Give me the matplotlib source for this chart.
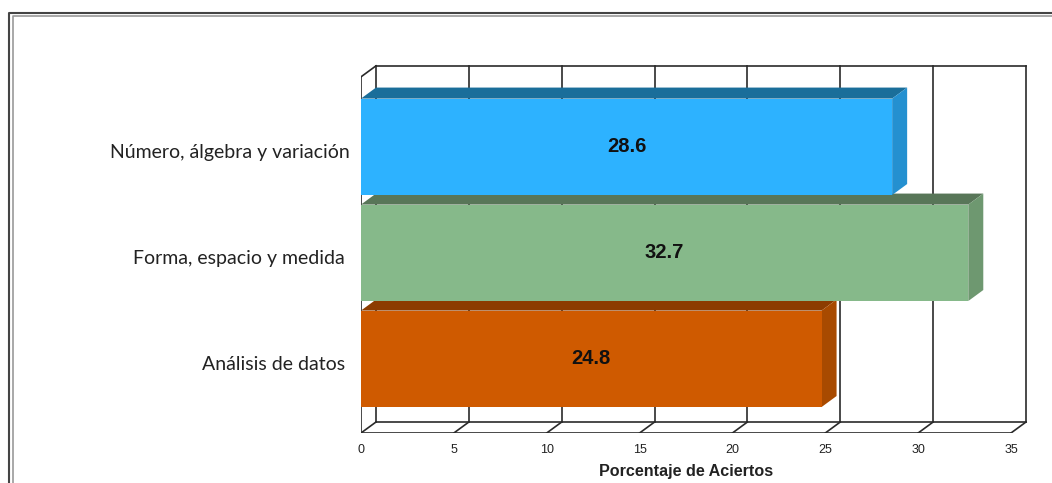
import matplotlib
matplotlib.use("Agg")
import matplotlib.pyplot as plt
import matplotlib.transforms as mtransforms
from matplotlib.patches import Polygon, Rectangle
from matplotlib.lines import Line2D

# datos
categorias = ["Análisis de datos ", "Forma, espacio y medida ", "Número, álgebra y variación"]
valores = [24.8, 32.7, 28.6]
colores_frente = ["#CF5A00", "#86B98A", "#2DB2FF"]
colores_arriba = ["#8C3C00", "#587658", "#1A6E9A"]
colores_lado = ["#A84A00", "#6E9870", "#2490D0"]
ticks = [0, 5, 10, 15, 20, 25, 30, 35]
titulo_x = "Porcentaje de Aciertos"

W, H = 1052, 483
fig = plt.figure(figsize=(W / 100, H / 100), dpi=100)

# escala en pixeles por unidad
px_x = 650 / 35
px_y = 106.0
x0_px, y0_px = 361, 433
xmax, ymax = 36.2, 3.55
ax = fig.add_axes([x0_px / W, (H - y0_px) / H, xmax * px_x / W, ymax * px_y / H])
ax.set_xlim(0, xmax)
ax.set_ylim(0, ymax)
for s in ax.spines.values():
    s.set_visible(False)

DX = 15 / px_x
DY = 11 / px_y
TOPE = 3.36
lc = "#2a2a2a"
lw = 1.2

# pared del fondo
for t in ticks:
    ax.plot([t + DX, t + DX], [DY, TOPE + DY], color=lc, lw=lw, zorder=1)
    ax.plot([t, t + DX], [0, DY], color=lc, lw=lw, zorder=1)
ax.plot([DX, ticks[-1] + DX], [TOPE + DY, TOPE + DY], color=lc, lw=lw, zorder=1)
ax.plot([DX, ticks[-1] + DX], [DY, DY], color=lc, lw=lw, zorder=1)
ax.plot([0, ticks[-1]], [0, 0], color=lc, lw=lw, zorder=1)
ax.plot([0, 0], [0, TOPE], color=lc, lw=lw, zorder=1)
ax.plot([0, DX], [TOPE, TOPE + DY], color=lc, lw=lw, zorder=1)

# barras 3D
centros = [0.70, 1.70, 2.70]
alto = 0.91
for i, (c, v) in enumerate(zip(centros, valores)):
    y1, y2 = c - alto / 2, c + alto / 2
    z = 2 + i
    ax.add_patch(Polygon([(0, y2), (v, y2), (v + DX, y2 + DY), (DX, y2 + DY)],
                         closed=True, facecolor=colores_arriba[i], edgecolor="none", zorder=z))
    ax.add_patch(Polygon([(v, y1), (v + DX, y1 + DY), (v + DX, y2 + DY), (v, y2)],
                         closed=True, facecolor=colores_lado[i], edgecolor="none", zorder=z))
    ax.add_patch(Rectangle((0, y1), v, alto, facecolor=colores_frente[i],
                           edgecolor="none", zorder=z))
    ax.text(v / 2, c, f"{v:.1f}", ha="center", va="center", fontsize=14.5,
            fontweight="bold", family="Liberation Sans", color="#111111", zorder=10)

ax.set_yticks(centros)
ax.set_yticklabels(categorias, family="Lato", fontsize=14, color="#222222")
ax.tick_params(axis="y", length=0, pad=8)
desplazar = mtransforms.ScaledTranslation(0, -3 / 72, fig.dpi_scale_trans)
for lab in ax.get_yticklabels():
    lab.set_transform(lab.get_transform() + desplazar)
ax.set_xticks(ticks)
ax.set_xticklabels([str(t) for t in ticks], family=["Liberation Sans Narrow", "Liberation Sans"],
                   fontsize=9, color="#222222")
ax.tick_params(axis="x", length=0, pad=8)
ax.set_xlabel(titulo_x, family="Liberation Sans", fontweight="bold", fontsize=11.6,
              color="#222222")
ax.xaxis.set_label_coords(17.5 / xmax, -0.082)

# marco
fig.add_artist(Line2D([9.5 / W, 9.5 / W, 1.0], [0, 1 - 12.5 / H, 1 - 12.5 / H],
                      transform=fig.transFigure, color="#444444", lw=1.5))
fig.add_artist(Line2D([12.5 / W, 12.5 / W, 1.0], [0, 1 - 15.5 / H, 1 - 15.5 / H],
                      transform=fig.transFigure, color="#999999", lw=1.2))

fig.savefig("out.png", dpi=100)
